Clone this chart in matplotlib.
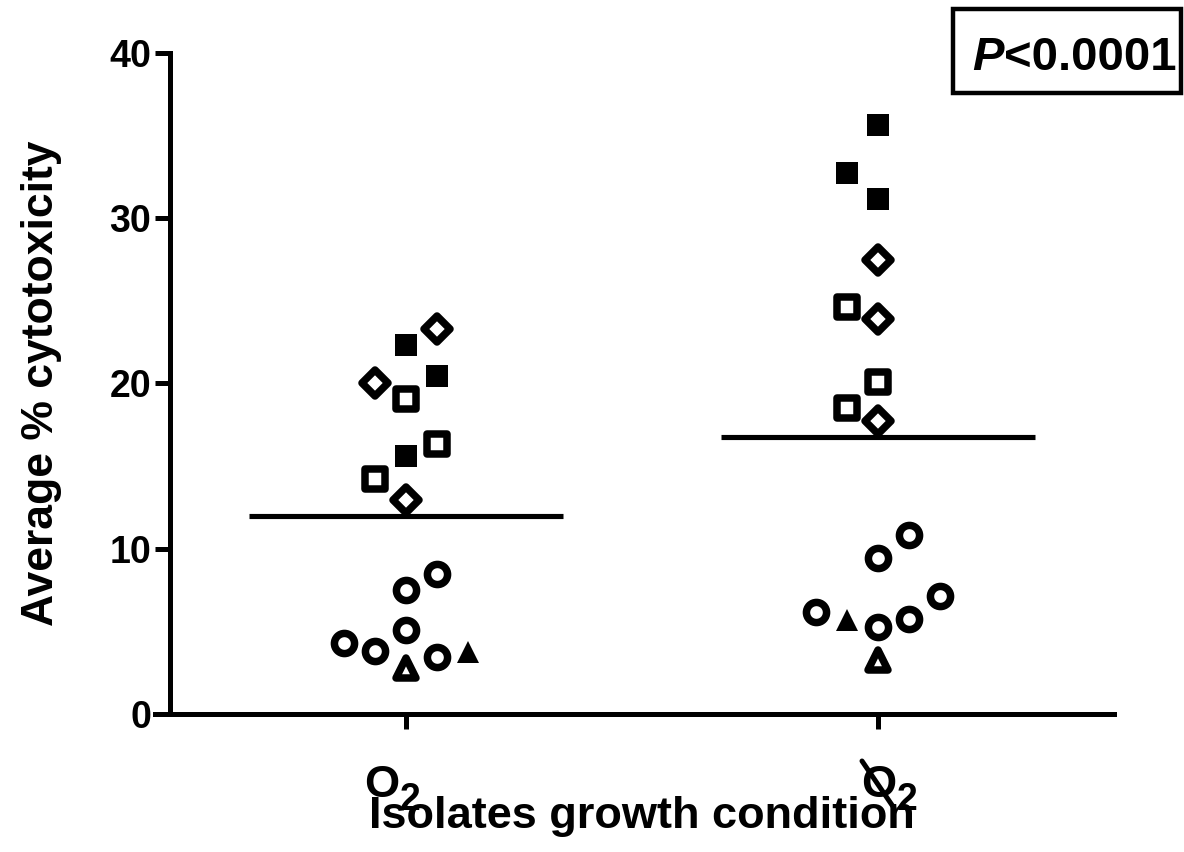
import matplotlib
matplotlib.use("Agg")
import matplotlib.pyplot as plt
from matplotlib.markers import MarkerStyle
from matplotlib.patches import Rectangle
from matplotlib.transforms import ScaledTranslation
import numpy as np

plt.rcParams["font.family"] = ["Liberation Sans", "DejaVu Sans"]
plt.rcParams["font.weight"] = "bold"

# --- data ---
group_names = ["O", "O"]   # second one is struck through (no oxygen)
group_sub = ["2", "2"]

o2_kind = ["fsq", "dia", "dia", "fsq", "osq", "osq", "fsq", "osq", "dia",
           "circ", "circ", "circ", "circ", "circ", "circ", "otri", "ftri"]
o2_vals = [22.35, 23.27, 20.0, 20.44, 19.07, 16.36, 15.64, 14.24, 12.97,
           8.48, 7.52, 5.09, 4.28, 3.84, 3.43, 2.8, 3.78]
o2_slot = [0, 1, -1, 1, 0, 1, 0, -1, 0, 1, 0, 0, -2, -1, 1, 0, 2]

anox_kind = ["fsq", "fsq", "fsq", "dia", "dia", "dia", "osq", "osq", "osq",
             "circ", "circ", "circ", "circ", "circ", "circ", "ftri", "otri"]
anox_vals = [35.64, 32.76, 31.15, 27.48, 23.9, 17.76, 24.6, 20.07, 18.5,
             10.81, 9.42, 6.18, 7.15, 5.76, 5.27, 5.67, 3.25]
anox_slot = [0, -1, 0, 0, 0, 0, -1, 0, -1, 1, 0, -2, 2, 1, 0, -1, 0]

p_text = "<0.0001"

def mk(m):
    return MarkerStyle(m, joinstyle="round")

styles = {
    "fsq": dict(marker=mk("s"), ms=15.5, mfc="black", mec="black", mew=0),
    "osq": dict(marker=mk("s"), ms=14.3, mfc="white", mec="black", mew=5.4),
    "dia": dict(marker=mk("D"), ms=13, mfc="white", mec="black", mew=5.4),
    "circ": dict(marker=mk("o"), ms=14.5, mfc="white", mec="black", mew=5.4),
    "otri": dict(marker=mk("^"), ms=14.5, mfc="white", mec="black", mew=5.4),
    "ftri": dict(marker=mk("^"), ms=15.5, mfc="black", mec="black", mew=0),
}

fig = plt.figure(figsize=(11.84, 8.52), dpi=100)
ax = fig.add_axes([170 / 1184, 138 / 852, 944 / 1184, 661 / 852])

step = 0.0657
for gx, (kinds, vals, slots) in enumerate([(o2_kind, o2_vals, o2_slot),
                                           (anox_kind, anox_vals, anox_slot)], start=1):
    for k, v, s in zip(kinds, vals, slots):
        ax.plot(gx + s * step, v, linestyle="none", zorder=3, clip_on=False, **styles[k])
    m = np.mean(vals)
    ax.plot([gx - 0.333, gx + 0.333], [m, m], color="black", lw=3.7,
            solid_capstyle="butt", zorder=2)

ax.set_xlim(0.5, 2.5)
ax.set_ylim(0, 40)
ax.set_yticks([0, 10, 20, 30, 40])
ax.set_xticks([1, 2])
ax.set_xticklabels(["", ""])
ax.tick_params(axis="y", labelsize=27, width=3.6, length=10.5, pad=3)
ax.tick_params(axis="x", width=3.6, length=10.5)
for s in ["top", "right"]:
    ax.spines[s].set_visible(False)
for s in ["left", "bottom"]:
    ax.spines[s].set_linewidth(3.6)
ax.spines["bottom"].set_bounds(0.5 - 0.032, 2.5)

# category labels: O with subscript 2 (px offsets from tick, converted to points)
tr = ax.get_xaxis_transform()
def off(dx_px, dy_px):
    return tr + ScaledTranslation(dx_px / 100, dy_px / 100, fig.dpi_scale_trans)

o_shift = [-24, 1]
for gx, name, sub, dx in zip([1, 2], group_names, group_sub, o_shift):
    ax.text(gx, 0, name, fontsize=32.5, fontweight="bold", ha="center", va="baseline",
            transform=off(dx, -83), clip_on=False)
    ax.text(gx, 0, sub, fontsize=27, fontweight="bold", ha="left", va="baseline",
            transform=off(dx + 18, -96), clip_on=False)

# slash through the second O
ax.annotate("", xy=(2, 0), xycoords=off(16, -94), xytext=(2, 0), textcoords=off(-16, -47),
            arrowprops=dict(arrowstyle="-", lw=3.6, color="black",
                            shrinkA=0, shrinkB=0), annotation_clip=False)

ax.set_ylabel("Average % cytotoxicity", fontsize=32, fontweight="bold")
ax.yaxis.set_label_coords((42 - 170) / 944, 0.5)
ax.yaxis.label.set_va("center")
ax.set_xlabel("Isolates growth condition", fontsize=32.5, fontweight="bold")
ax.xaxis.set_label_coords(0.5, (714 - 828) / 661)
ax.xaxis.label.set_va("baseline")

# P value box
fig.add_artist(Rectangle((953 / 1184, 1 - 93 / 852), 228 / 1184, 84 / 852,
                         transform=fig.transFigure, fill=False, lw=3.2,
                         edgecolor="black", clip_on=False))
pt = fig.text(972 / 1184, 1 - 70 / 852, "P", fontsize=34, fontweight="bold",
              fontstyle="italic", va="baseline", ha="left")
ax.annotate(p_text, xy=(1, 0), xycoords=pt, fontsize=34, fontweight="bold",
            va="bottom", ha="left", annotation_clip=False)

fig.savefig("out.png", dpi=100)
